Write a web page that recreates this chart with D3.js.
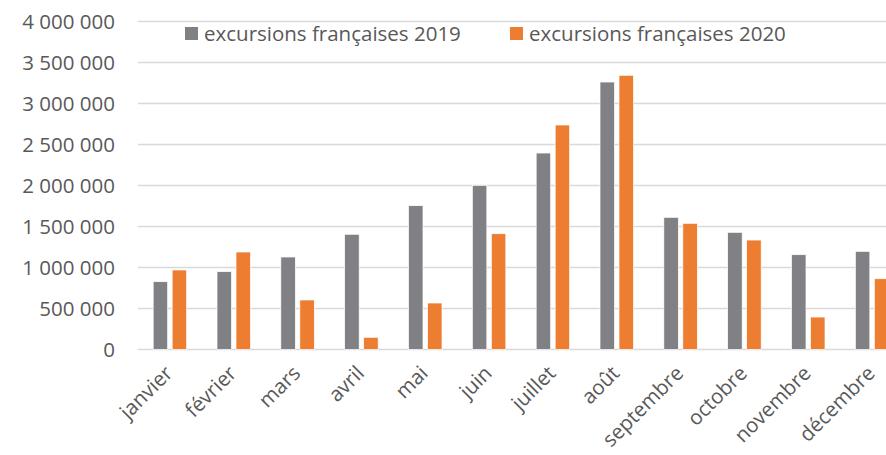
<!DOCTYPE html>
<html>
<head>
<meta charset="utf-8">
<script src="https://cdn.jsdelivr.net/npm/d3@7"></script>
<style>
  body { margin: 0; background: #fff; }
  svg { display: block; font-family: "Open Sans", sans-serif; }
  .tick text { fill: #595959; }
</style>
</head>
<body>
<div id="chart"></div>
<script>
/* monthly values */
var months = ["janvier", "février", "mars", "avril", "mai", "juin",
              "juillet", "août", "septembre", "octobre", "novembre", "décembre"];
var seriesNames = ["excursions françaises 2019", "excursions françaises 2020"];
var values2019 = [827000, 949000, 1128000, 1405000, 1754000, 2002000,
                  2396000, 3262000, 1612000, 1429000, 1156000, 1197000];
var values2020 = [970000, 1189000, 604000, 149000, 567000, 1412000,
                  2738000, 3344000, 1539000, 1335000, 396000, 863000];
var yTicks = [0, 500000, 1000000, 1500000, 2000000, 2500000, 3000000, 3500000, 4000000];

var colors = ["#808184", "#ed7d31"];

var width = 886, height = 455;
/* plot area; the right edge runs past the picture like the reference */
var plot = {left: 138, right: 904, top: 21.5, bottom: 349.5};

function translate(x, y) {
    return "translate(" + x + "," + y + ")";
}

var svg = d3.select("#chart").append("svg")
    .attr("width", width)
    .attr("height", height);

var x = d3.scaleBand()
    .domain(months)
    .range([plot.left, plot.right]);

var y = d3.scaleLinear()
    .domain([0, 4000000])
    .range([plot.bottom, plot.top]);

var fmt = function(d) { return d3.format(",")(d).replace(/,/g, " "); };

/* gridlines */
svg.append("g")
    .selectAll("line")
    .data(yTicks)
  .enter().append("line")
    .attr("x1", plot.left).attr("x2", plot.right)
    .attr("y1", function(d) { return y(d); })
    .attr("y2", function(d) { return y(d); })
    .attr("stroke", "#d9d9d9")
    .attr("stroke-width", 1.5);

/* y axis labels */
var yAxis = d3.axisLeft(y)
    .tickValues(yTicks)
    .tickFormat(fmt)
    .tickSize(0)
    .tickPadding(23);

svg.append("g")
    .attr("transform", translate(plot.left, 0))
    .call(yAxis)
    .call(function(g) { g.select(".domain").remove(); })
    .selectAll("text")
    .attr("font-size", 20.5)
    .attr("font-family", "Open Sans, sans-serif");

/* bars */
var barW = 14.5, gap = 4.5;
var series = [values2019, values2020];

series.forEach(function(vals, s) {
    svg.append("g")
        .selectAll("rect")
        .data(vals)
      .enter().append("rect")
        .attr("x", function(d, i) {
            var c = x(months[i]) + x.bandwidth() / 2;
            return s === 0 ? c - gap / 2 - barW : c + gap / 2;
        })
        .attr("y", function(d) { return y(d); })
        .attr("width", barW)
        .attr("height", function(d) { return y(0) - y(d); })
        .attr("fill", colors[s])
        .attr("stroke", "#fff")
        .attr("stroke-width", 0.7);
});

/* x axis labels, rotated */
var xAxis = d3.axisBottom(x)
    .tickSize(0)
    .tickPadding(0);

var xg = svg.append("g")
    .attr("transform", translate(0, plot.bottom))
    .call(xAxis);
xg.select(".domain").remove();
xg.selectAll("text")
    .attr("font-size", 20.5)
    .attr("font-family", "Open Sans, sans-serif")
    .attr("text-anchor", "end")
    .attr("dy", 0)
    .attr("transform", "translate(4,25) rotate(-45)");

/* legend */
var legend = svg.append("g");
var legendX = [185, 510];
seriesNames.forEach(function(name, i) {
    var g = legend.append("g").attr("transform", translate(legendX[i], 27));
    g.append("rect")
        .attr("x", 0).attr("y", 0)
        .attr("width", 13).attr("height", 13)
        .attr("fill", colors[i]);
    g.append("text")
        .attr("x", 19).attr("y", 14)
        .attr("font-size", 20.5)
        .attr("fill", "#595959")
        .text(name);
});
</script>
</body>
</html>
